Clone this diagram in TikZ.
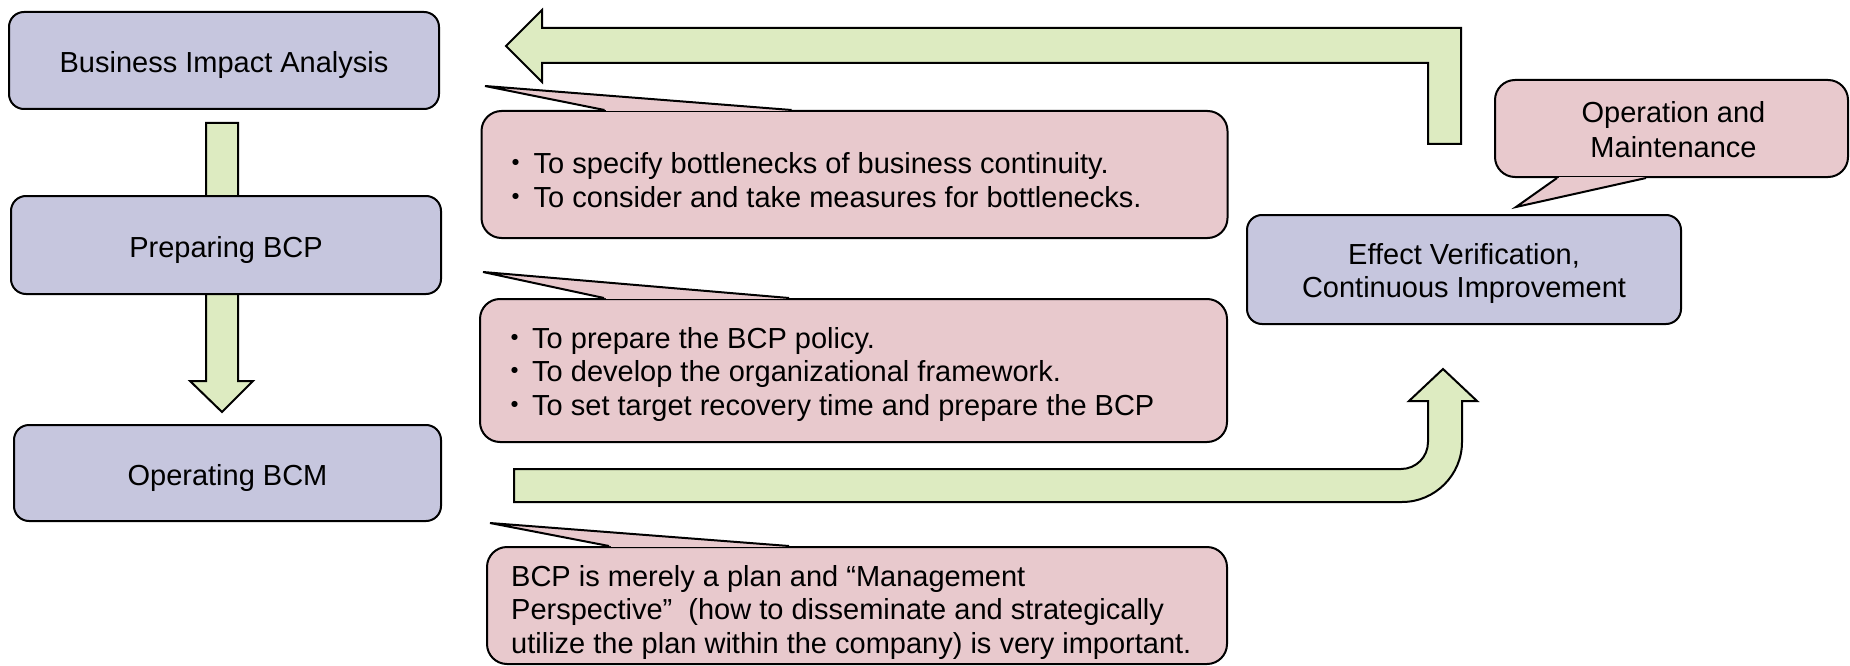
\documentclass[tikz,border=0pt]{standalone}
\usepackage{fontspec}
\setmainfont{Liberation Sans}
\newfontfamily\jpfont{Noto Sans CJK JP}
\usetikzlibrary{calc}

\definecolor{stagefill}{RGB}{198,198,222}
\definecolor{notefill}{RGB}{232,201,205}
\definecolor{flowfill}{RGB}{221,235,193}

\newcommand{\bul}{{\jpfont ・}\kern3pt}

\tikzset{
  txt/.style={font=\fontsize{29}{33.5}\selectfont, text=black, inner sep=0pt},
  stage/.style={draw=black, line width=2pt, fill=stagefill,
    rounded corners=15pt, inner sep=0pt},
  stagetext/.style={txt, align=center},
  notebox/.style={draw=black, line width=2pt, fill=notefill,
    rounded corners=20pt, inner sep=0pt},
  notetext/.style={txt, align=left, anchor=west},
  flow/.style={draw=black, line width=2pt, fill=flowfill, line join=miter},
  pointerfill/.style={fill=notefill},
  pointerseam/.style={draw=notefill, line width=2.8pt},
  pointerline/.style={draw=black, line width=2pt, line join=miter}
}

% callout wedge: #1 base start, #2 tip, #3 base end (all coordinates)
\newcommand{\notewedge}[3]{%
  \fill[pointerfill] #1 -- #2 -- #3 -- cycle;
  \draw[pointerseam] ($#1!1.5pt!#3$) -- ($#3!1.5pt!#1$);
  \draw[pointerline] #1 -- #2 -- #3;
}

\begin{document}
\begin{tikzpicture}[x=1pt,y=-1pt]
\useasboundingbox (0,0) rectangle (1850,666);

% ---- block arrows (drawn first, stage boxes sit on top) ----
\draw[flow] (206,123) -- (238,123) -- (238,381) -- (253,381) -- (222,412)
  -- (190,381) -- (206,381) -- cycle;

\draw[flow] (506,46) -- (542,10) -- (542,28) -- (1461,28) -- (1461,144)
  -- (1428,144) -- (1428,63) -- (542,63) -- (542,82) -- cycle;

\draw[flow] (514,469) -- (1401,469) .. controls (1416,469) and (1428,457) .. (1428,442)
  -- (1428,401) -- (1409,401) -- (1443,369) -- (1477,401) -- (1462,401)
  -- (1462,442) .. controls (1462,475) and (1435,502) .. (1402,502)
  -- (514,502) -- cycle;

% ---- stage boxes ----
\node[stage, minimum width=430pt, minimum height=97pt] (bia) at (224,60.5) {};
\node[stagetext] (biatext) at ($(bia.center)+(0,5)$) {Business Impact Analysis};

\node[stage, minimum width=430pt, minimum height=98pt] (prep) at (226,245) {};
\node[stagetext] (preptext) at ($(prep.center)+(0,5)$) {Preparing BCP};

\node[stage, minimum width=427pt, minimum height=96pt] (oper) at (227.5,473) {};
\node[stagetext] (opertext) at ($(oper.center)+(0,5)$) {Operating BCM};

\node[stage, minimum width=434pt, minimum height=109pt] (eff) at (1464,269.5) {};
\node[stagetext] (efftext) at ($(eff.center)+(0,4)$)
  {Effect Verification,\\Continuous Improvement};

% ---- callouts ----
\node[notebox, minimum width=746pt, minimum height=127pt] (c1) at (854.5,174.5) {};
\coordinate (c1tip) at (485,86);
\notewedge{($(c1.north west)+(124,0)$)}{(c1tip)}{($(c1.north west)+(311,0)$)}
\node[notetext] (c1text) at ($(c1.west)+(21,5.5)$)
  {\bul To specify bottlenecks of business continuity.\\
   \bul To consider and take measures for bottlenecks.};

\node[notebox, minimum width=747pt, minimum height=143pt] (c2) at (853.5,370.5) {};
\coordinate (c2tip) at (483,272);
\notewedge{($(c2.north west)+(125,0)$)}{(c2tip)}{($(c2.north west)+(310,0)$)}
\node[notetext] (c2text) at ($(c2.west)+(21,3.5)$)
  {\bul To prepare the BCP policy.\\
   \bul To develop the organizational framework.\\
   \bul To set target recovery time and prepare the BCP};

\node[notebox, minimum width=740pt, minimum height=117pt] (c3) at (857,605.5) {};
\coordinate (c3tip) at (490,523);
\notewedge{($(c3.north west)+(123,0)$)}{(c3tip)}{($(c3.north west)+(303,0)$)}
\node[notetext] (c3text) at ($(c3.west)+(25,6.5)$)
  {BCP is merely a plan and “Management\\
   Perspective”\ \ (how to disseminate and strategically\\
   utilize the plan within the company) is very important.};

\node[notebox, minimum width=353pt, minimum height=97pt] (om) at (1671.5,128.5) {};
\coordinate (omtip) at (1516,207);
\notewedge{($(om.south west)+(63,0)$)}{(omtip)}{($(om.south west)+(152,0)$)}
\node[stagetext, font=\fontsize{29}{35}\selectfont] (omtext) at ($(om.center)+(2,1)$)
  {Operation and\\Maintenance};

\end{tikzpicture}
\end{document}
